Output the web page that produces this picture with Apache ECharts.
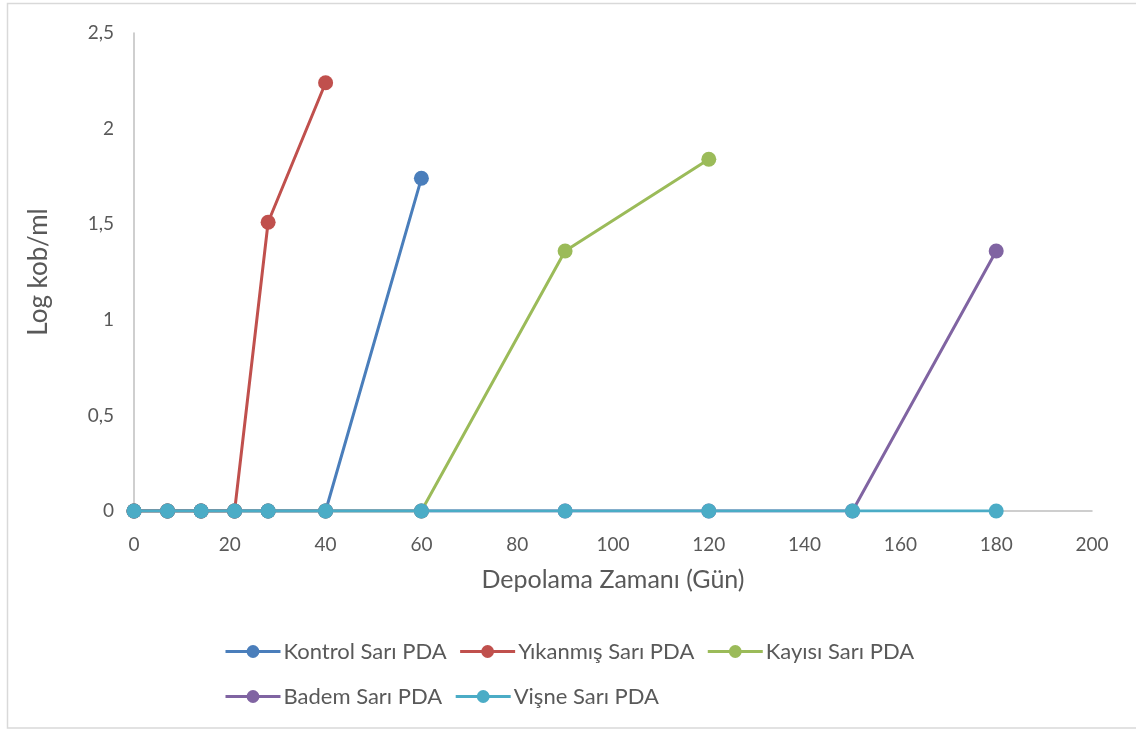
<!DOCTYPE html>
<html>
<head>
<meta charset="utf-8">
<title>Log kob/ml - Depolama Zamanı</title>
<script src="https://cdn.jsdelivr.net/npm/echarts@6/dist/echarts.min.js"></script>
<style>
  html, body { margin: 0; padding: 0; background: #ffffff; }
  #chart { width: 1136px; height: 729px; }
</style>
</head>
<body>
<div id="chart"></div>
<script>
// Storage days (x) and log cfu/ml values per sample group
const days = [0, 7, 14, 21, 28, 40, 60, 90, 120, 150, 180];

const kontrol  = [0, 0, 0, 0, 0, 0, 1.74];
const yikanmis = [0, 0, 0, 0, 1.51, 2.24];
const kayisi   = [0, 0, 0, 0, 0, 0, 0, 1.36, 1.84];
const badem    = [0, 0, 0, 0, 0, 0, 0, 0, 0, 0, 1.36];
const visne    = [0, 0, 0, 0, 0, 0, 0, 0, 0, 0, 0];

const seriesNames = ['Kontrol Sarı PDA', 'Yıkanmış Sarı PDA', 'Kayısı Sarı PDA', 'Badem Sarı PDA', 'Vişne Sarı PDA'];
const seriesValues = [kontrol, yikanmis, kayisi, badem, visne];
const seriesColors = ['#4a7ebb', '#c0504d', '#9bbb59', '#8064a2', '#4bacc6'];

const xTitle = 'Depolama Zamanı (Gün)';
const yTitle = 'Log kob/ml';

const textColor = '#595959';
const fontFamily = 'Lato, "Open Sans", sans-serif';

function pairUp(values) {
  return values.map((v, i) => [days[i], v]);
}

const chart = echarts.init(document.getElementById('chart'), null, { renderer: 'canvas' });

chart.setOption({
  backgroundColor: '#ffffff',
  animation: false,
  graphic: [{
    type: 'rect',
    shape: { x: 7.5, y: 3.5, width: 1200, height: 724.5 },
    style: { fill: 'none', stroke: '#d9d9d9', lineWidth: 1.5 },
    silent: true,
    z: -10
  }],
  grid: { left: 134, right: 44, top: 33, bottom: 218, containLabel: false },
  legend: {
    left: 224,
    top: 635,
    width: 760,
    itemWidth: 55,
    itemHeight: 16,
    itemGap: 12,
    padding: 0,
    data: seriesNames,
    lineStyle: { width: 3 },
    textStyle: { color: textColor, fontSize: 22, fontFamily: fontFamily, padding: [0, 0, 0, -2], lineHeight: 33 }
  },
  xAxis: {
    type: 'value',
    min: 0,
    max: 200,
    interval: 20,
    name: xTitle,
    nameLocation: 'middle',
    nameGap: 56,
    nameTextStyle: { color: textColor, fontSize: 25, fontFamily: fontFamily },
    axisLine: { show: true, onZero: false, lineStyle: { color: '#bfbfbf', width: 1.5 } },
    axisTick: { show: false },
    splitLine: { show: false },
    axisLabel: { color: textColor, fontSize: 19, fontFamily: fontFamily, margin: 24 }
  },
  yAxis: {
    type: 'value',
    min: 0,
    max: 2.5,
    interval: 0.5,
    name: yTitle,
    nameLocation: 'middle',
    nameGap: 82,
    nameRotate: 90,
    nameTextStyle: { color: textColor, fontSize: 26, fontFamily: fontFamily },
    axisLine: { show: true, lineStyle: { color: '#bfbfbf', width: 1.5 } },
    axisTick: { show: false },
    splitLine: { show: false },
    axisLabel: {
      color: textColor, fontSize: 19, fontFamily: fontFamily, margin: 20,
      formatter: v => String(v).replace('.', ',')
    }
  },
  series: seriesValues.map((vals, i) => ({
    name: seriesNames[i],
    type: 'line',
    data: pairUp(vals),
    symbol: 'circle',
    symbolSize: 15,
    showSymbol: true,
    lineStyle: { width: 3, color: seriesColors[i] },
    itemStyle: { color: seriesColors[i] },
    emphasis: { disabled: true },
    z: 2 + i
  }))
});
</script>
</body>
</html>
